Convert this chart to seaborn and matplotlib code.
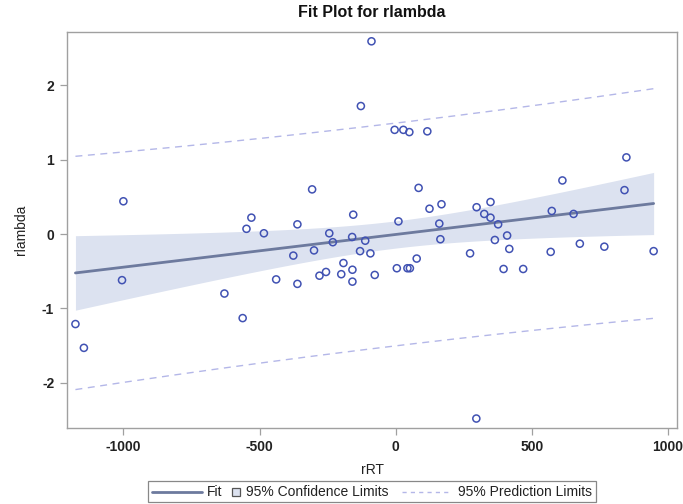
import numpy as np
import pandas as pd
import matplotlib
matplotlib.use("Agg")
import matplotlib.pyplot as plt
import seaborn as sns
from matplotlib.lines import Line2D
from matplotlib.patches import Rectangle
from matplotlib.offsetbox import DrawingArea, TextArea, HPacker, AnchoredOffsetbox

# ---- data ----
rRT = [-1176, -1145, -1000, -1005, -629, -562, -548, -530, -484, -439,
       -376, -361, -361, -307, -300, -280, -256, -244, -231, -200,
       -192, -160, -159, -159, -156, -131, -128, -112, -93, -89,
       -77, -4, 4, 10, 28, 43, 52, 50, 77, 84,
       116, 124, 160, 164, 168, 273, 296, 297, 325, 348,
       348, 364, 376, 396, 409, 417, 468, 569, 573, 612,
       653, 676, 766, 840, 847, 947]
rlambda = [-1.21, -1.53, 0.44, -0.62, -0.80, -1.13, 0.07, 0.22, 0.01, -0.61,
           -0.29, 0.13, -0.67, 0.60, -0.22, -0.56, -0.51, 0.01, -0.11, -0.54,
           -0.39, -0.04, -0.48, -0.64, 0.26, -0.23, 1.72, -0.09, -0.26, 2.59,
           -0.55, 1.40, -0.46, 0.17, 1.40, -0.46, -0.46, 1.37, -0.33, 0.62,
           1.38, 0.34, 0.14, -0.07, 0.40, -0.26, -2.48, 0.36, 0.27, 0.43,
           0.22, -0.08, 0.13, -0.47, -0.02, -0.20, -0.47, -0.24, 0.31, 0.72,
           0.27, -0.13, -0.17, 0.59, 1.03, -0.23]
x_ticks = [-1000, -500, 0, 500, 1000]
y_ticks = [-2, -1, 0, 1, 2]
title = "Fit Plot for rlambda"
legend_labels = ["Fit", "95% Confidence Limits", "95% Prediction Limits"]

df = pd.DataFrame({"rRT": rRT, "rlambda": rlambda})

# ---- OLS fit with confidence / prediction limits ----
x = df["rRT"].to_numpy(float)
y = df["rlambda"].to_numpy(float)
n = len(x)
b1, b0 = np.polyfit(x, y, 1)
resid = y - (b0 + b1 * x)
s = np.sqrt(np.sum(resid ** 2) / (n - 2))
xbar = x.mean()
sxx = np.sum((x - xbar) ** 2)
tval = 1.9983  # t(0.975, 64)
xg = np.linspace(x.min(), x.max(), 200)
yg = b0 + b1 * xg
se_m = s * np.sqrt(1 / n + (xg - xbar) ** 2 / sxx)
se_p = s * np.sqrt(1 + 1 / n + (xg - xbar) ** 2 / sxx)
fit = pd.DataFrame({"x": xg, "fit": yg,
                    "clm_lo": yg - tval * se_m, "clm_hi": yg + tval * se_m,
                    "pl_lo": yg - tval * se_p, "pl_hi": yg + tval * se_p})

sns.set_theme(style="white")
plt.rcParams["font.family"] = ["Liberation Sans", "DejaVu Sans"]

c_pts = "#4152b3"
c_fit = "#6d7a9e"
c_band = "#dce2f0"
c_pred = "#b4b7e8"
c_frame = "#a0a0a0"
c_text = "#222222"

fig = plt.figure(figsize=(6.83, 5.04), dpi=100)
ax = fig.add_axes([0.0977, 0.1514, 0.8940, 0.7845])

ax.fill_between(fit["x"], fit["clm_lo"], fit["clm_hi"], color=c_band, lw=0, zorder=1)
sns.lineplot(data=fit, x="x", y="fit", ax=ax, color=c_fit, lw=2.0, zorder=3)
sns.lineplot(data=fit, x="x", y="pl_lo", ax=ax, color=c_pred, lw=1.0,
             linestyle=(0, (5, 4)), zorder=2)
sns.lineplot(data=fit, x="x", y="pl_hi", ax=ax, color=c_pred, lw=1.0,
             linestyle=(0, (5, 4)), zorder=2)
sns.scatterplot(data=df, x="rRT", y="rlambda", ax=ax, marker="o",
                facecolor="none", edgecolor=c_pts, linewidth=1.1, s=26, zorder=4)

ax.set_xlim(-1208, 1034)
ax.set_ylim(-2.603, 2.711)
ax.set_xticks(x_ticks)
ax.set_yticks(y_ticks)
ax.set_xticklabels([str(v) for v in x_ticks], fontsize=10, fontweight="bold", color=c_text)
ax.set_yticklabels([str(v) for v in y_ticks], fontsize=10, fontweight="bold", color=c_text)
ax.tick_params(axis="both", direction="out", length=5, width=0.9, color=c_frame,
               bottom=True, left=True, pad=4)
for sp in ax.spines.values():
    sp.set_color(c_frame)
    sp.set_linewidth(1.0)
ax.set_xlabel("rRT", fontsize=10, color=c_text, labelpad=6)
ax.set_ylabel("rlambda", fontsize=10, color=c_text, labelpad=10)
ax.set_title(title, fontsize=11.5, fontweight="bold", color="#111111", pad=11)

# ---- legend built from offset boxes (SAS-like spacing) ----
pt = 72.0 / 100.0  # points per pixel


def spacer(w_px):
    return DrawingArea(w_px * pt, 1)


tp = dict(fontsize=10, color=c_text)
h = 10 * pt
d_fit = DrawingArea(50 * pt, h)
d_fit.add_artist(Line2D([0, 50 * pt], [h / 2, h / 2], color=c_fit, lw=2.0))
d_sq = DrawingArea(9 * pt, h)
d_sq.add_artist(Rectangle((0.5 * pt, h / 2 - 4 * pt), 8 * pt, 8 * pt,
                          facecolor=c_band, edgecolor="#555555", lw=0.9))
d_pl = DrawingArea(48 * pt, h)
d_pl.add_artist(Line2D([0, 48 * pt], [h / 2, h / 2], color=c_pred, lw=1.0,
                       linestyle=(0, (3, 3))))
children = [d_fit, spacer(5), TextArea(legend_labels[0], textprops=tp), spacer(9),
            d_sq, spacer(6), TextArea(legend_labels[1], textprops=tp), spacer(13),
            d_pl, spacer(9), TextArea(legend_labels[2], textprops=tp)]
row = HPacker(children=children, align="center", pad=0, sep=0)
anch = AnchoredOffsetbox(loc="lower center", child=row, pad=0.25, borderpad=0.1,
                         frameon=True, bbox_to_anchor=(372 / 683, 0.0),
                         bbox_transform=fig.transFigure)
anch.patch.set_edgecolor("#888888")
anch.patch.set_linewidth(0.9)
anch.patch.set_boxstyle("square", pad=0)
fig.add_artist(anch)

fig.savefig("out.png", dpi=100)
